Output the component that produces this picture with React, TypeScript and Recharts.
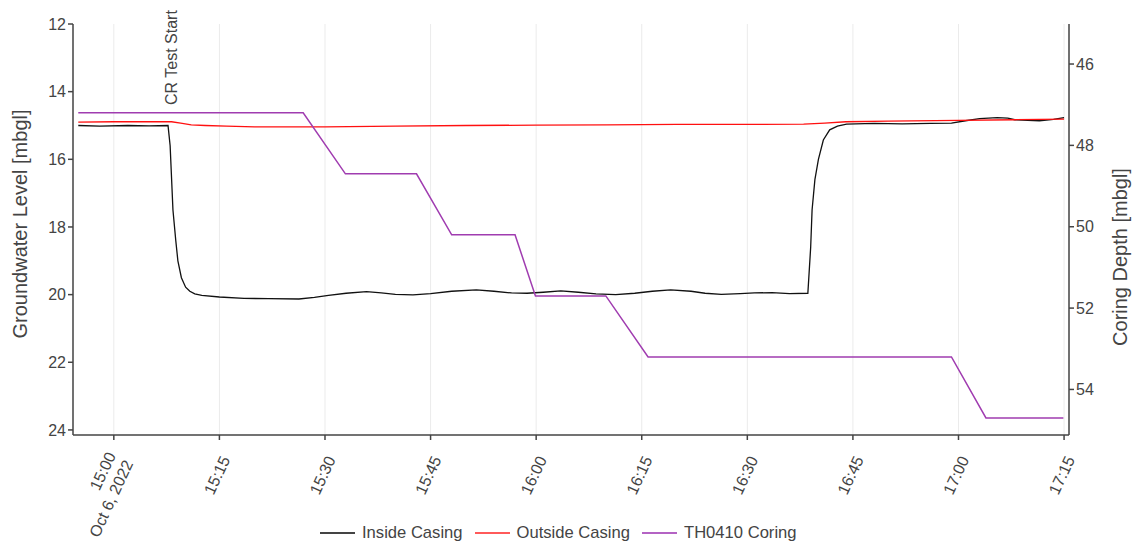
import { LineChart, Line, XAxis, YAxis, CartesianGrid, Legend, ReferenceLine, Label } from 'recharts';

// minutes after 15:00 on Oct 6, 2022
const insideTime = [
  -5.05, -2, 2, 5, 7.7, 8.0, 8.4, 8.8, 9.1, 9.6, 10.2, 10.8, 11.5, 12.5, 15, 18.5, 22, 26.3, 28.5, 30.5,
  33, 35.9, 38, 40, 42.5, 45, 48, 51.5, 54, 56.5, 58.7, 61, 63.5, 66, 68.5, 71.3, 74, 76.5, 79.1, 82,
  84, 86.3, 89, 91, 93.5, 96, 98.6, 99.0, 99.2, 99.6, 100.1, 100.8, 101.7, 102.8, 104.1, 108, 112, 116,
  119, 121, 123, 125.5, 127, 128, 131.5, 133.5, 135,
];
const insideLevel = [
  15.0, 15.02, 15.0, 15.01, 15.0, 15.6, 17.5, 18.4, 19.0, 19.5, 19.78, 19.9, 19.98, 20.02, 20.07, 20.11, 20.12, 20.13, 20.08, 20.02,
  19.96, 19.91, 19.95, 19.99, 20.01, 19.97, 19.9, 19.86, 19.9, 19.95, 19.96, 19.93, 19.89, 19.93, 19.98, 20.0, 19.96, 19.9, 19.86, 19.9,
  19.96, 19.99, 19.97, 19.95, 19.94, 19.97, 19.96, 18.6, 17.5, 16.6, 16.0, 15.43, 15.13, 15.02, 14.96, 14.94, 14.95, 14.94,
  14.93, 14.86, 14.8, 14.77, 14.78, 14.83, 14.86, 14.82, 14.77,
];

const outsideTime = [-5.05, 0, 5, 8.2, 9.5, 11, 13, 16, 20, 30, 40, 50, 60, 70, 80, 90, 98, 101, 104, 110, 120, 128, 135];
const outsideLevel = [
  14.9, 14.89, 14.89, 14.89, 14.93, 14.98, 15.0, 15.02, 15.04, 15.04, 15.02, 15.0, 14.99, 14.98, 14.97, 14.97, 14.96, 14.93,
  14.89, 14.87, 14.85, 14.83, 14.81,
];

const coringTime = [-5.05, 26.9, 32.9, 43.0, 48.0, 57.0, 59.9, 69.9, 75.9, 119.0, 123.9, 134.9];
const coringDepth = [47.2, 47.2, 48.7, 48.7, 50.2, 50.2, 51.7, 51.7, 53.2, 53.2, 54.7, 54.7];

const timeTicks = [0, 15, 30, 45, 60, 75, 90, 105, 120, 135];
const levelTicks = [12, 14, 16, 18, 20, 22, 24];
const depthTicks = [46, 48, 50, 52, 54];

const insideData = insideTime.map((t, i) => ({ t, level: insideLevel[i] }));
const outsideData = outsideTime.map((t, i) => ({ t, level: outsideLevel[i] }));
const coringData = coringTime.map((t, i) => ({ t, depth: coringDepth[i] }));

const FONT = '"Liberation Sans", Arial, sans-serif';
const TEXT = '#444';

function timeLabel(m: number): string[] {
  const h = 15 + Math.floor(m / 60);
  const mm = String(m % 60).padStart(2, '0');
  const s = `${h}:${mm}`;
  return m === 0 ? [s, 'Oct 6, 2022'] : [s];
}

function TimeTick({ x, y, payload }: any) {
  const lines = timeLabel(payload.value);
  return (
    <g transform={`translate(${x + 6},${y + 15}) rotate(-65)`}>
      <text textAnchor="end" fill={TEXT} fontSize={16} fontFamily={FONT}>
        {lines.map((l, i) => (
          <tspan key={i} x={0} dy={i === 0 ? (lines.length > 1 ? '-0.25em' : '0.35em') : '1.2em'}>
            {l}
          </tspan>
        ))}
      </text>
    </g>
  );
}

const legendItems = [
  { name: 'Inside Casing', color: '#444' },
  { name: 'Outside Casing', color: '#ff5a5a' },
  { name: 'TH0410 Coring', color: '#b463c4' },
];

function ChartLegend() {
  return (
    <div style={{ display: 'flex', alignItems: 'center', fontFamily: FONT, fontSize: 16.6, color: TEXT }}>
      {legendItems.map((it) => (
        <div key={it.name} style={{ display: 'flex', alignItems: 'center', marginRight: 12 }}>
          <div style={{ width: 35, height: 2, background: it.color, marginRight: 7 }} />
          <span>{it.name}</span>
        </div>
      ))}
    </div>
  );
}

export default function App() {
  return (
    <div style={{ position: 'absolute', left: 0, top: 0, background: '#fff' }}>
      <LineChart width={1133} height={547} margin={{ top: 24, right: 0, bottom: 0, left: 0 }}>
        <CartesianGrid vertical horizontal={false} stroke="#ebebeb" yAxisId="left" />
        <XAxis
          dataKey="t"
          type="number"
          domain={[-5.8, 135.7]}
          ticks={timeTicks}
          allowDataOverflow
          height={112}
          stroke={TEXT}
          strokeWidth={1.5}
          tickSize={5}
          tick={<TimeTick />}
          interval={0}
        />
        <YAxis
          yAxisId="left"
          reversed
          domain={[12, 24.15]}
          ticks={levelTicks}
          allowDataOverflow
          width={73}
          stroke={TEXT}
          strokeWidth={1.5}
          tickSize={5}
          tick={{ fill: TEXT, fontSize: 16, fontFamily: FONT }}
        >
          <Label
            content={() => (
              <text
                transform="translate(27,224) rotate(-90)"
                textAnchor="middle"
                fill={TEXT}
                fontSize={20}
                fontFamily={FONT}
              >
                Groundwater Level [mbgl]
              </text>
            )}
          />
        </YAxis>
        <YAxis
          yAxisId="right"
          orientation="right"
          reversed
          domain={[45.016, 55.12]}
          ticks={depthTicks}
          allowDataOverflow
          width={64}
          stroke={TEXT}
          strokeWidth={1.5}
          tickSize={5}
          tick={{ fill: TEXT, fontSize: 16, fontFamily: FONT }}
        >
          <Label
            content={() => (
              <text
                transform="translate(1127,257) rotate(-90)"
                textAnchor="middle"
                fill={TEXT}
                fontSize={20}
                fontFamily={FONT}
              >
                Coring Depth [mbgl]
              </text>
            )}
          />
        </YAxis>
        <ReferenceLine
          x={8}
          yAxisId="left"
          stroke="none"
          label={(p: any) => (
            <text
              transform={`translate(${p.viewBox.x + 6.5},105) rotate(-90)`}
              textAnchor="start"
              fill={TEXT}
              fontSize={16}
              fontFamily={FONT}
            >
              CR Test Start
            </text>
          )}
        />
        <Line
          data={insideData}
          yAxisId="left"
          dataKey="level"
          name="Inside Casing"
          stroke="#111"
          strokeWidth={1.3}
          dot={false}
          isAnimationActive={false}
        />
        <Line
          data={outsideData}
          yAxisId="left"
          dataKey="level"
          name="Outside Casing"
          stroke="#ff1010"
          strokeWidth={1.3}
          dot={false}
          isAnimationActive={false}
        />
        <Line
          data={coringData}
          yAxisId="right"
          dataKey="depth"
          name="TH0410 Coring"
          stroke="#a03cb0"
          strokeWidth={1.5}
          dot={false}
          isAnimationActive={false}
        />
        <Legend
          layout="horizontal"
          verticalAlign="middle"
          content={<ChartLegend />}
          wrapperStyle={{ top: 523, left: 320, width: 'auto' }}
        />
      </LineChart>
    </div>
  );
}
